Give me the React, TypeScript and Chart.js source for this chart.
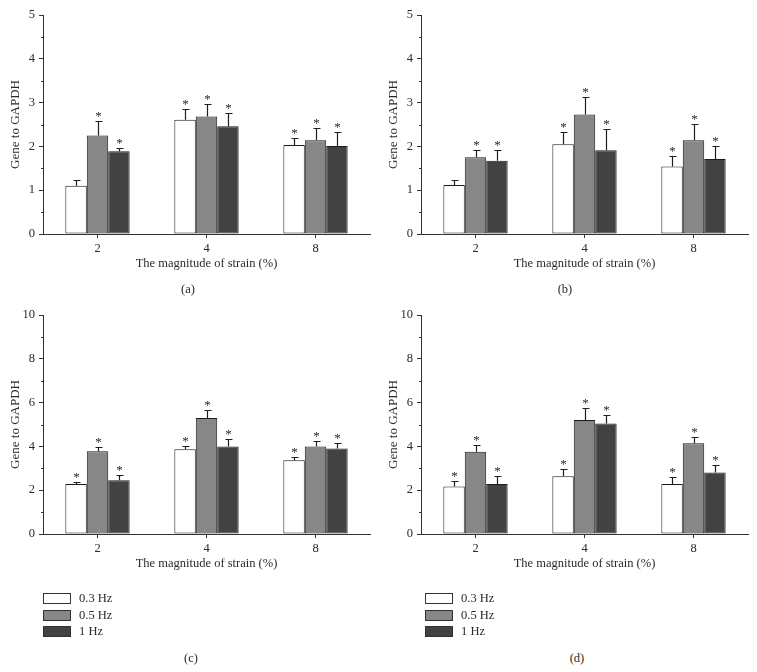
import React, { useEffect, useRef } from 'react';
import { Chart, registerables } from 'chart.js';

Chart.register(...registerables);

// ---------- data ----------
const categories = ['2', '4', '8'];
const seriesLabels = ['0.3 Hz', '0.5 Hz', '1 Hz'];
const seriesColors = ['#ffffff', '#878787', '#424242'];

// panel (a)
const aLow = [1.10, 2.61, 2.03];
const aMid = [2.25, 2.68, 2.14];
const aHigh = [1.89, 2.46, 2.01];
const aLowErr = [0.13, 0.25, 0.16];
const aMidErr = [0.33, 0.28, 0.28];
const aHighErr = [0.08, 0.30, 0.33];
const aLowSig = [false, true, true];
const aMidSig = [true, true, true];
const aHighSig = [true, true, true];

// panel (b)
const bLow = [1.12, 2.05, 1.54];
const bMid = [1.75, 2.73, 2.14];
const bHigh = [1.67, 1.91, 1.71];
const bLowErr = [0.12, 0.27, 0.24];
const bMidErr = [0.17, 0.40, 0.37];
const bHighErr = [0.25, 0.48, 0.29];
const bLowSig = [false, true, true];
const bMidSig = [true, true, true];
const bHighSig = [true, true, true];

// panel (c)
const cLow = [2.28, 3.87, 3.37];
const cMid = [3.78, 5.30, 3.99];
const cHigh = [2.46, 3.99, 3.90];
const cLowErr = [0.10, 0.17, 0.15];
const cMidErr = [0.21, 0.34, 0.24];
const cHighErr = [0.23, 0.37, 0.24];
const cLowSig = [true, true, true];
const cMidSig = [true, true, true];
const cHighSig = [true, true, true];

// panel (d)
const dLow = [2.17, 2.64, 2.28];
const dMid = [3.76, 5.20, 4.14];
const dHigh = [2.28, 5.05, 2.81];
const dLowErr = [0.23, 0.35, 0.31];
const dMidErr = [0.32, 0.57, 0.31];
const dHighErr = [0.36, 0.40, 0.32];
const dLowSig = [true, true, true];
const dMidSig = [true, true, true];
const dHighSig = [true, true, true];

const xTitle = 'The magnitude of strain (%)';
const yTitle = 'Gene to GAPDH';

const FONT = '"Liberation Serif", "Times New Roman", serif';
const FS = 12.5;
const INK = '#2a2a2a';

// ---------- plugins ----------
const errorPlugin = {
  id: 'errbars',
  afterDatasetsDraw(chart: any) {
    const { ctx } = chart;
    const y = chart.scales.y;
    ctx.save();
    chart.data.datasets.forEach((ds: any, i: number) => {
      const meta = chart.getDatasetMeta(i);
      meta.data.forEach((bar: any, j: number) => {
        const v = ds.data[j];
        const e = ds.errors[j];
        const yTop = Math.round(y.getPixelForValue(v + e)) + 0.5;
        const yBar = y.getPixelForValue(v);
        const x = Math.round(bar.x) + 0.5;
        ctx.strokeStyle = '#1e1e1e';
        ctx.lineWidth = 1.2;
        ctx.beginPath();
        ctx.moveTo(x, yBar);
        ctx.lineTo(x, yTop);
        ctx.moveTo(x - 3, yTop);
        ctx.lineTo(x + 4, yTop);
        ctx.stroke();
        if (ds.sig[j]) {
          ctx.fillStyle = INK;
          ctx.font = `13px ${FONT}`;
          ctx.textAlign = 'center';
          ctx.textBaseline = 'alphabetic';
          ctx.fillText('*', x, yTop - 1.5);
        }
      });
    });
    ctx.restore();
  },
};

const minorTickPlugin = {
  id: 'minorTicks',
  afterDraw(chart: any) {
    const { ctx } = chart;
    const y = chart.scales.y;
    const step = chart.options.plugins.minorTicks.step;
    const major = chart.options.scales.y.ticks.stepSize;
    ctx.save();
    ctx.strokeStyle = '#333';
    ctx.lineWidth = 1;
    ctx.beginPath();
    for (let v = y.min; v <= y.max + 1e-9; v += step) {
      const r = v / major;
      if (Math.abs(r - Math.round(r)) < 1e-6) continue;
      const py = Math.round(y.getPixelForValue(v)) + 0.5;
      ctx.moveTo(y.right - 2, py);
      ctx.lineTo(y.right, py);
    }
    ctx.stroke();
    ctx.restore();
  },
};

type PanelProps = {
  left: number;
  top: number;
  width: number;
  padRight: number;
  yMax: number;
  yStep: number;
  minor: number;
  low: number[]; mid: number[]; high: number[];
  lowErr: number[]; midErr: number[]; highErr: number[];
  lowSig: boolean[]; midSig: boolean[]; highSig: boolean[];
};

const CANVAS_H = 300;

function Panel(p: PanelProps) {
  const ref = useRef<HTMLCanvasElement>(null);
  useEffect(() => {
    const vals = [p.low, p.mid, p.high];
    const errs = [p.lowErr, p.midErr, p.highErr];
    const sigs = [p.lowSig, p.midSig, p.highSig];
    const chart = new Chart(ref.current as HTMLCanvasElement, {
      type: 'bar',
      data: {
        labels: categories,
        datasets: seriesLabels.map((lab, i) => ({
          label: lab,
          data: vals[i],
          errors: errs[i],
          sig: sigs[i],
          backgroundColor: seriesColors[i],
          borderColor: '#1a1a1a',
          borderWidth: 1,
          borderSkipped: false,
          categoryPercentage: 0.59,
          barPercentage: 1,
        })) as any,
      },
      options: {
        animation: false,
        responsive: false,
        devicePixelRatio: 1,
        layout: { padding: { top: 15, right: p.padRight, left: 0, bottom: 0 } },
        plugins: {
          legend: { display: false },
          tooltip: { enabled: false },
          minorTicks: { step: p.minor },
        } as any,
        scales: {
          x: {
            grid: { display: true, drawOnChartArea: false, drawTicks: true, tickLength: 4, tickColor: '#333', offset: false },
            border: { display: true, color: '#333', width: 1 },
            ticks: { color: INK, font: { family: FONT, size: FS }, padding: 3 },
            title: {
              display: true, text: xTitle, color: INK,
              font: { family: FONT, size: FS, lineHeight: 1.2 },
              padding: { top: 0, bottom: 28.5 },
            },
            afterFit: (s: any) => { s.height = 66; },
          },
          y: {
            min: 0, max: p.yMax,
            grid: { display: true, drawOnChartArea: false, drawTicks: true, tickLength: 4, tickColor: '#333' },
            border: { display: true, color: '#333', width: 1 },
            ticks: { stepSize: p.yStep, color: INK, font: { family: FONT, size: FS }, padding: 4 },
            title: {
              display: true, text: yTitle, color: INK,
              font: { family: FONT, size: 13, lineHeight: 1.2 },
              padding: { top: 8, bottom: 0 },
            },
            afterFit: (s: any) => { s.width = 43; },
          },
        },
      } as any,
      plugins: [errorPlugin, minorTickPlugin],
    });
    return () => chart.destroy();
  }, []);
  return (
    <canvas
      ref={ref}
      width={p.width}
      height={CANVAS_H}
      style={{ position: 'absolute', left: p.left, top: p.top, width: p.width, height: CANVAS_H }}
    />
  );
}

const textStyle: React.CSSProperties = {
  position: 'absolute',
  fontFamily: FONT,
  fontSize: FS,
  lineHeight: '15px',
  color: INK,
  whiteSpace: 'nowrap',
};

function Caption({ text, cx, cy }: { text: string; cx: number; cy: number }) {
  return <div style={{ ...textStyle, left: cx - 50, width: 100, textAlign: 'center', top: cy - 7.5 }}>{text}</div>;
}

function Legend({ left, top }: { left: number; top: number }) {
  return (
    <>
      {seriesLabels.map((lab, i) => (
        <React.Fragment key={lab}>
          <div
            style={{
              position: 'absolute', left, top: top + i * 16.7, width: 26, height: 9,
              background: seriesColors[i], border: '1px solid #333',
            }}
          />
          <div style={{ ...textStyle, left: left + 36, top: top + i * 16.7 - 2 }}>{lab}</div>
        </React.Fragment>
      ))}
    </>
  );
}

export default function App() {
  return (
    <div style={{ position: 'absolute', left: 0, top: 0, width: 757, height: 672, background: '#fff', overflow: 'hidden' }}>
      <Panel left={0} top={0} width={378} padRight={8} yMax={5} yStep={1} minor={0.5}
        low={aLow} mid={aMid} high={aHigh} lowErr={aLowErr} midErr={aMidErr} highErr={aHighErr}
        lowSig={aLowSig} midSig={aMidSig} highSig={aHighSig} />
      <Panel left={378} top={0} width={379} padRight={9} yMax={5} yStep={1} minor={0.5}
        low={bLow} mid={bMid} high={bHigh} lowErr={bLowErr} midErr={bMidErr} highErr={bHighErr}
        lowSig={bLowSig} midSig={bMidSig} highSig={bHighSig} />
      <Panel left={0} top={300} width={378} padRight={8} yMax={10} yStep={2} minor={1}
        low={cLow} mid={cMid} high={cHigh} lowErr={cLowErr} midErr={cMidErr} highErr={cHighErr}
        lowSig={cLowSig} midSig={cMidSig} highSig={cHighSig} />
      <Panel left={378} top={300} width={379} padRight={9} yMax={10} yStep={2} minor={1}
        low={dLow} mid={dMid} high={dHigh} lowErr={dLowErr} midErr={dMidErr} highErr={dHighErr}
        lowSig={dLowSig} midSig={dMidSig} highSig={dHighSig} />
      <Caption text="(a)" cx={188} cy={289} />
      <Caption text="(b)" cx={565} cy={289} />
      <Legend left={43} top={593} />
      <Legend left={425} top={593} />
      <Caption text="(c)" cx={191} cy={658} />
      <Caption text="(d)" cx={577} cy={658} />
    </div>
  );
}
